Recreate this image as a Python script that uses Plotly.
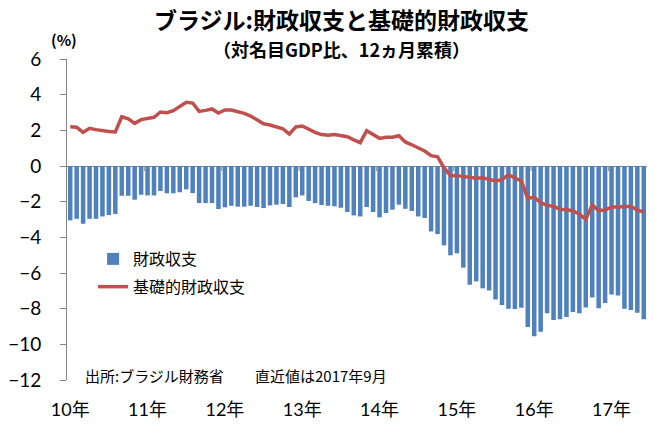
import plotly.graph_objects as go

# Monthly data, Apr 2010 - Sep 2017 (90 months), % of nominal GDP, 12-month cumulative
fiscal_balance = [
    -3.05, -2.96, -3.24, -2.96, -2.96, -2.83, -2.75, -2.69, -1.67, -1.67, -1.89, -1.61,
    -1.65, -1.65, -1.40, -1.53, -1.53, -1.47, -1.31, -1.52, -2.08, -2.08, -2.08, -2.41,
    -2.32, -2.23, -2.28, -2.28, -2.23, -2.30, -2.36, -2.21, -2.17, -2.13, -2.30, -1.76,
    -1.65, -1.96, -2.08, -2.19, -2.23, -2.26, -2.34, -2.58, -2.77, -2.83, -2.30, -2.58,
    -2.88, -2.64, -2.45, -2.17, -2.40, -2.52, -2.83, -2.92, -3.67, -3.82, -4.45, -5.01,
    -4.90, -5.70, -6.66, -6.47, -6.86, -6.98, -7.48, -7.80, -8.00, -8.02, -7.95, -9.03,
    -9.55, -9.29, -8.25, -8.64, -8.60, -8.47, -8.19, -8.25, -7.93, -7.37, -7.98, -7.68,
    -7.20, -7.26, -8.00, -8.08, -8.23, -8.60,
]
primary_balance = [
    2.20, 2.17, 1.89, 2.11, 2.04, 1.98, 1.94, 1.91, 2.76, 2.64, 2.39, 2.60,
    2.65, 2.73, 3.03, 2.99, 3.10, 3.33, 3.57, 3.53, 3.06, 3.12, 3.20, 2.97,
    3.14, 3.14, 3.05, 2.95, 2.80, 2.56, 2.37, 2.30, 2.19, 2.09, 1.79, 2.19,
    2.24, 2.04, 1.89, 1.76, 1.72, 1.76, 1.72, 1.64, 1.47, 1.31, 1.98, 1.76,
    1.55, 1.61, 1.61, 1.70, 1.35, 1.19, 1.04, 0.84, 0.58, 0.52, -0.11, -0.53,
    -0.54, -0.60, -0.66, -0.69, -0.66, -0.75, -0.84, -0.77, -0.49, -0.67, -0.84, -1.82,
    -1.74, -2.06, -2.21, -2.26, -2.43, -2.45, -2.51, -2.71, -2.99, -2.19, -2.49, -2.47,
    -2.30, -2.30, -2.30, -2.26, -2.47, -2.58,
]
year_labels = ["10年", "11年", "12年", "13年", "14年", "15年", "16年", "17年"]
series_names = ["財政収支", "基礎的財政収支"]

months = list(range(len(fiscal_balance)))
label_pos = [12 * i for i in range(len(year_labels))]

FONT = "Lato, 'Noto Sans CJK JP', sans-serif"
JP = "'Noto Sans CJK JP', sans-serif"
AXIS_GRAY = "#868686"

fig = go.Figure()
fig.add_trace(go.Bar(
    x=months, y=fiscal_balance, name=series_names[0], legendgroup="g1",
    marker=dict(color="#4F81BD", line=dict(width=0)),
))
fig.add_trace(go.Scatter(
    x=months, y=primary_balance, name=series_names[1], mode="lines", legendgroup="g2",
    line=dict(color="#C0504D", width=3.5),
))

# small tick marks at year boundaries on the zero line
for k in range(1, len(year_labels)):
    fig.add_shape(type="line", xref="x", yref="y", x0=12 * k - 0.5, x1=12 * k - 0.5,
                  ysizemode="pixel", yanchor=0, y0=0, y1=-5,
                  line=dict(color=AXIS_GRAY, width=1))

plot_l, plot_r, plot_t, plot_b = 67, 647, 59, 380
W, H = 655, 425

fig.update_layout(
    width=W, height=H,
    margin=dict(l=plot_l, r=W - plot_r, t=plot_t, b=H - plot_b, autoexpand=False),
    paper_bgcolor="white", plot_bgcolor="white",
    bargap=0.3,
    font=dict(family=FONT, color="black"),
    showlegend=True,
    legend=dict(x=0.045, xanchor="left", y=0.43, yanchor="top",
                font=dict(family=JP, size=16, color="black"),
                bgcolor="rgba(0,0,0,0)", itemwidth=30, tracegroupgap=4),
    xaxis=dict(range=[-0.5, len(months) - 0.5], showline=False, showgrid=False,
               zeroline=False, ticks="", tickmode="array", tickvals=label_pos,
               ticktext=year_labels, tickfont=dict(size=18, family=FONT),
               ticklabelstandoff=17),
    yaxis=dict(range=[-12, 6], dtick=2, tick0=0, showgrid=False, showline=True,
               linecolor=AXIS_GRAY, linewidth=1, ticks="outside", ticklen=6,
               tickcolor=AXIS_GRAY, zeroline=True, zerolinecolor=AXIS_GRAY,
               zerolinewidth=1, tickfont=dict(size=19, family=FONT),
               ticklabelstandoff=15),
)

# text placed by window pixel position (converted to paper coordinates)
texts = [
    ("<b>ブラジル:財政収支と基礎的財政収支</b>", 341, 19, "center", 23),
    ("<b>（対名目GDP比、12ヵ月累積）</b>", 341, 49, "center", 18),
    ("<b>(%)</b>", 64, 39, "center", 15),
    ("出所:ブラジル財務省", 83, 375, "left", 15),
    ("直近値は2017年9月", 253, 375, "left", 15),
]
for txt, px, py, xa, size in texts:
    fig.add_annotation(
        text=txt, xref="paper", yref="paper",
        x=(px - plot_l) / (plot_r - plot_l),
        y=1 - (py - plot_t) / (plot_b - plot_t),
        xanchor=xa, yanchor="middle", showarrow=False,
        font=dict(family=JP, size=size, color="black"),
    )

fig.write_html("out.html", config={"displayModeBar": False},
               post_script="document.body.style.margin='0';")
